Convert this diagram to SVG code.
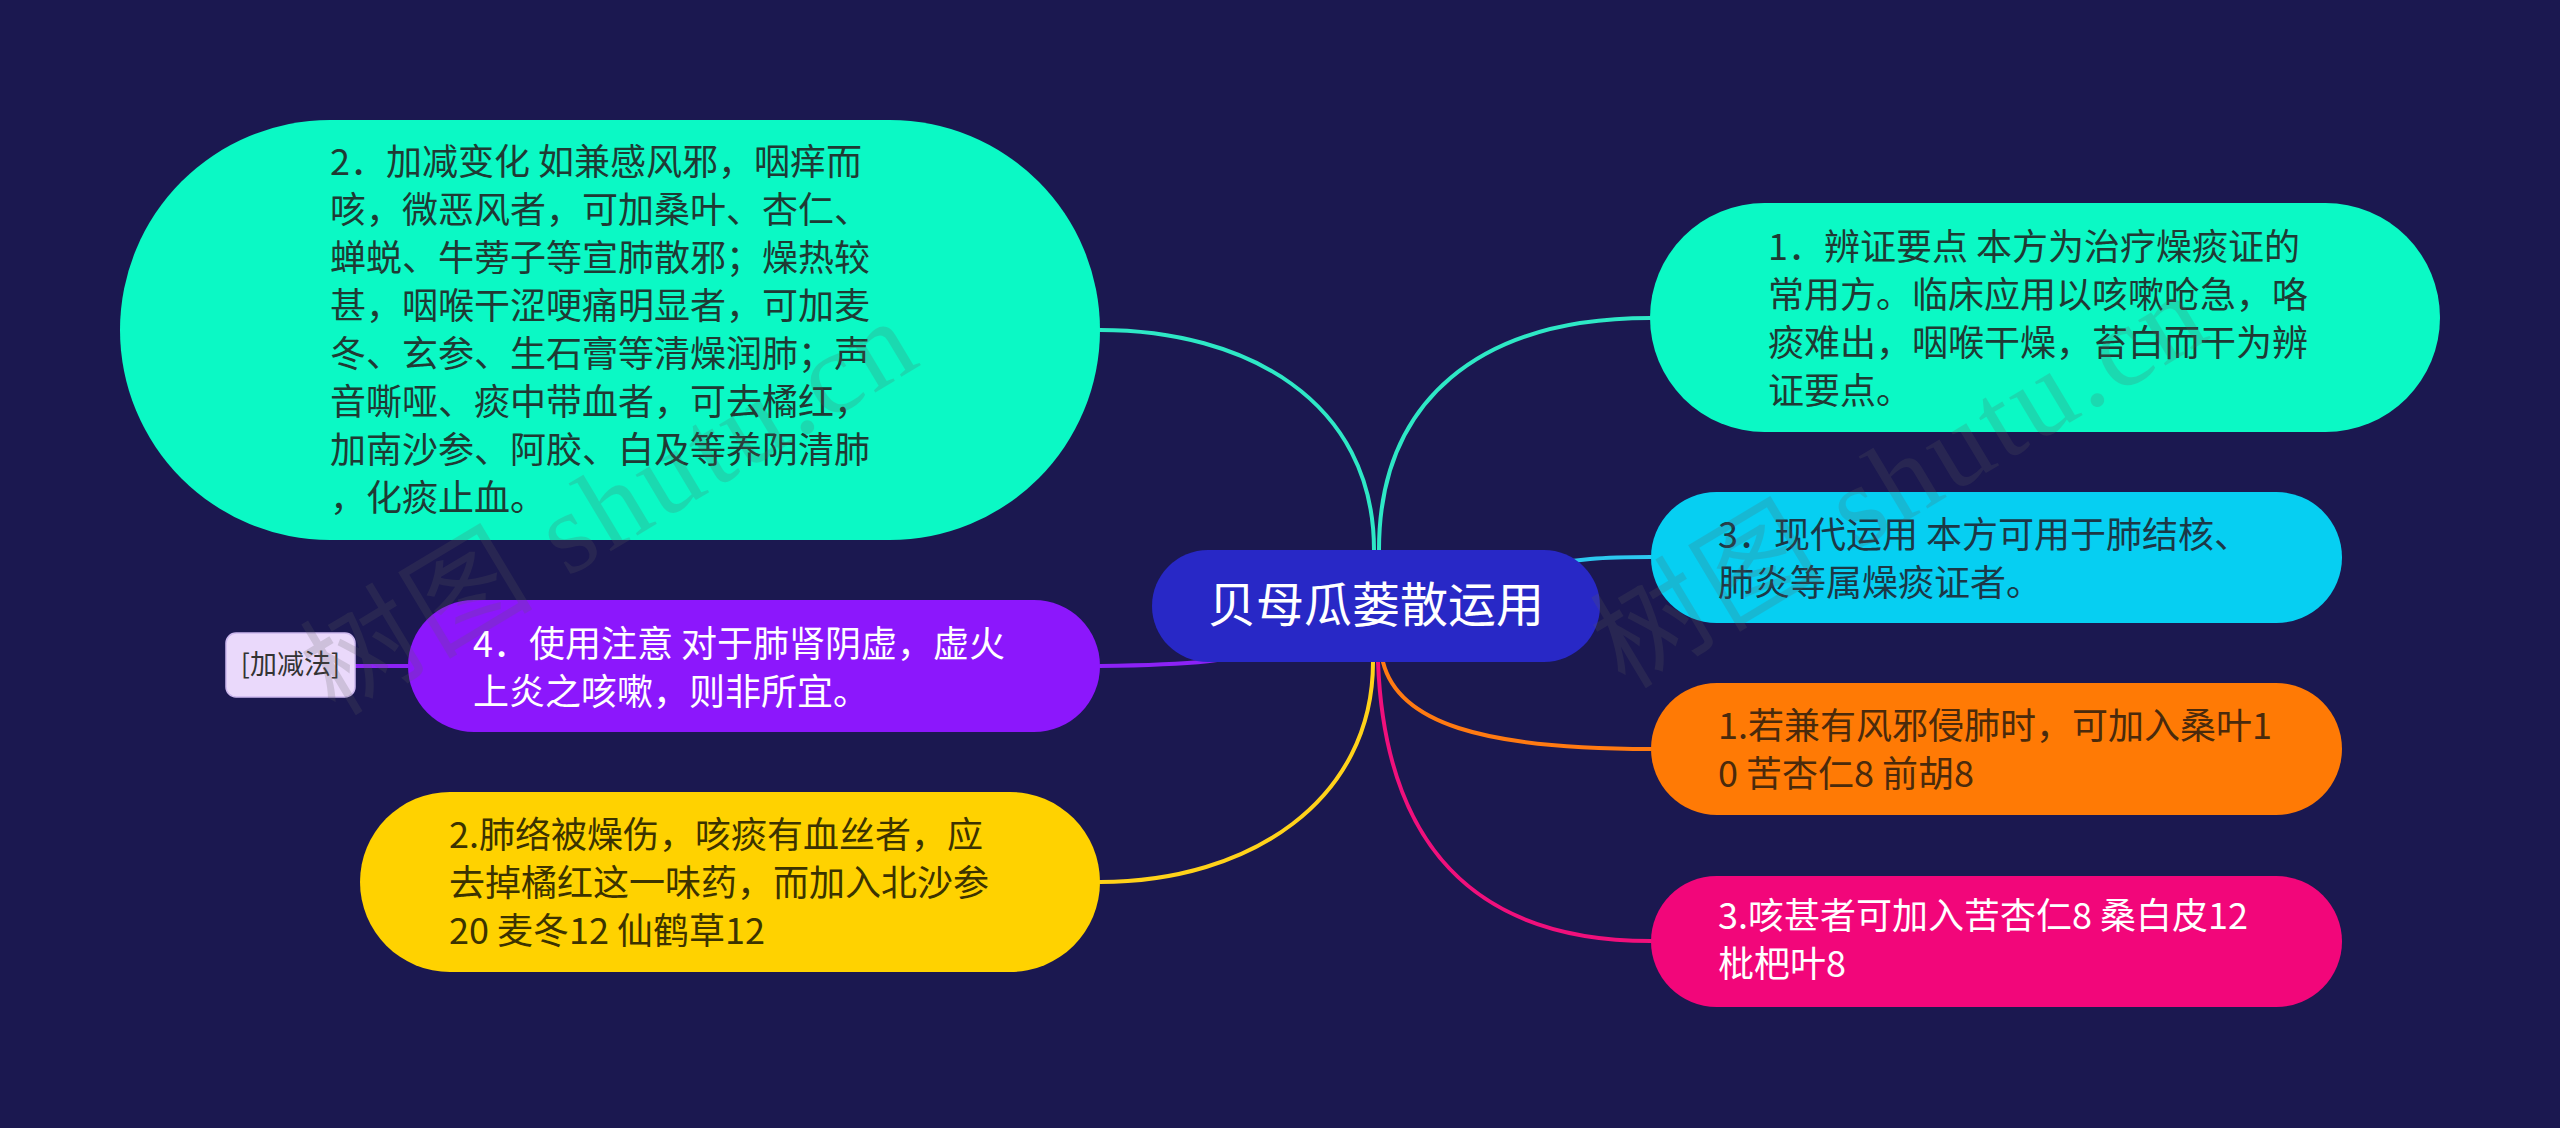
<svg xmlns="http://www.w3.org/2000/svg" width="2560" height="1128" viewBox="0 0 2560 1128">
<style>
.t{font-family:"Noto Sans CJK SC","Noto Sans",sans-serif;font-size:36px}
.dk{fill:#1f3a34}
.cy{fill:#1c3846}
.or{fill:#4a2a0c}
.ye{fill:#3c3300}
.wh{fill:#ffffff}
.c{fill:none;stroke-width:4;stroke-linecap:round}
.wm{font-family:"Liberation Serif","Noto Sans CJK SC",serif;font-size:115px;fill:#5e5e5e;opacity:0.2;letter-spacing:4px}
</style>
<rect x="0" y="0" width="2560" height="1128" fill="#1b1850"/>
<g id="connectors">
<path class="c" stroke="#2ee8c6" d="M1374,550 C1374,400 1245,330 1100,330"/>
<path class="c" stroke="#2ee8c6" d="M1379,550 C1379,400 1480,318 1650,318"/>
<path class="c" stroke="#2cc8f0" d="M1530,570 C1570,558 1610,557 1651,557"/>
<path class="c" stroke="#8c22f6" d="M1300,640 C1240,663 1180,665 1100,666"/>
<path class="c" stroke="#8c22f6" d="M408,666 L355,666"/>
<path class="c" stroke="#ffd21a" d="M1373,662 C1373,800 1250,882 1100,882"/>
<path class="c" stroke="#ff7a12" d="M1383,662 C1398,722 1480,749 1651,749"/>
<path class="c" stroke="#f0107c" d="M1378,662 C1385,840 1470,941 1651,941"/>
</g>
<g id="center">
<rect x="1152" y="550" width="448" height="112" rx="56" fill="#2828c6"/>
<text x="1376" y="622" text-anchor="middle" font-family="Noto Sans CJK SC, sans-serif" font-size="48" fill="#ffffff">贝母瓜蒌散运用</text>
</g>
<g id="n-jiajian">
<rect x="120" y="120" width="980" height="420" rx="210" fill="#0bf9c5"/>
<text class="t dk">
<tspan x="330" y="175">2．加减变化 如兼感风邪，咽痒而</tspan>
<tspan x="330" y="223">咳，微恶风者，可加桑叶、杏仁、</tspan>
<tspan x="330" y="271">蝉蜕、牛蒡子等宣肺散邪；燥热较</tspan>
<tspan x="330" y="319">甚，咽喉干涩哽痛明显者，可加麦</tspan>
<tspan x="330" y="367">冬、玄参、生石膏等清燥润肺；声</tspan>
<tspan x="330" y="415">音嘶哑、痰中带血者，可去橘红，</tspan>
<tspan x="330" y="463">加南沙参、阿胶、白及等养阴清肺</tspan>
<tspan x="330" y="511">，化痰止血。</tspan>
</text>
</g>
<g id="n-bianzheng">
<rect x="1650" y="203" width="790" height="229" rx="114.5" fill="#0bf9c5"/>
<text class="t dk">
<tspan x="1768" y="260">1．辨证要点 本方为治疗燥痰证的</tspan>
<tspan x="1768" y="308">常用方。临床应用以咳嗽呛急，咯</tspan>
<tspan x="1768" y="356">痰难出，咽喉干燥，苔白而干为辨</tspan>
<tspan x="1768" y="404">证要点。</tspan>
</text>
</g>
<g id="n-xiandai">
<rect x="1651" y="492" width="691" height="131" rx="65.5" fill="#06cff2"/>
<text class="t cy">
<tspan x="1718" y="548">3．现代运用 本方可用于肺结核、</tspan>
<tspan x="1718" y="596">肺炎等属燥痰证者。</tspan>
</text>
</g>
<g id="n-fengxie">
<rect x="1651" y="683" width="691" height="132" rx="66" fill="#ff7a05"/>
<text class="t or">
<tspan x="1718" y="739">1.若兼有风邪侵肺时，可加入桑叶1</tspan>
<tspan x="1718" y="787">0 苦杏仁8 前胡8</tspan>
</text>
</g>
<g id="n-kesheng">
<rect x="1651" y="876" width="691" height="131" rx="65.5" fill="#f2067a"/>
<text class="t wh">
<tspan x="1718" y="929">3.咳甚者可加入苦杏仁8 桑白皮12</tspan>
<tspan x="1718" y="977">枇杷叶8</tspan>
</text>
</g>
<g id="n-zhuyi">
<rect x="408" y="600" width="692" height="132" rx="66" fill="#8c17fc"/>
<text class="t wh">
<tspan x="473" y="657">4．使用注意 对于肺肾阴虚，虚火</tspan>
<tspan x="473" y="705">上炎之咳嗽，则非所宜。</tspan>
</text>
</g>
<g id="n-label">
<rect x="226" y="633" width="129" height="64" rx="10" fill="#ead9fb" stroke="#cdb8ee" stroke-width="1.5"/>
<text x="290.5" y="674" text-anchor="middle" font-family="Noto Sans CJK SC, sans-serif" font-size="27" fill="#333333">[加减法]</text>
</g>
<g id="n-feiluo">
<rect x="360" y="792" width="740" height="180" rx="90" fill="#ffd200"/>
<text class="t ye">
<tspan x="449" y="848">2.肺络被燥伤，咳痰有血丝者，应</tspan>
<tspan x="449" y="896">去掉橘红这一味药，而加入北沙参</tspan>
<tspan x="449" y="944">20 麦冬12 仙鹤草12</tspan>
</text>
</g>
<g id="watermark">
<text class="wm" transform="translate(335,717) rotate(-31)">树图 shutu.cn</text>
<text class="wm" transform="translate(1625,690) rotate(-31)">树图 shutu.cn</text>
</g>
</svg>
